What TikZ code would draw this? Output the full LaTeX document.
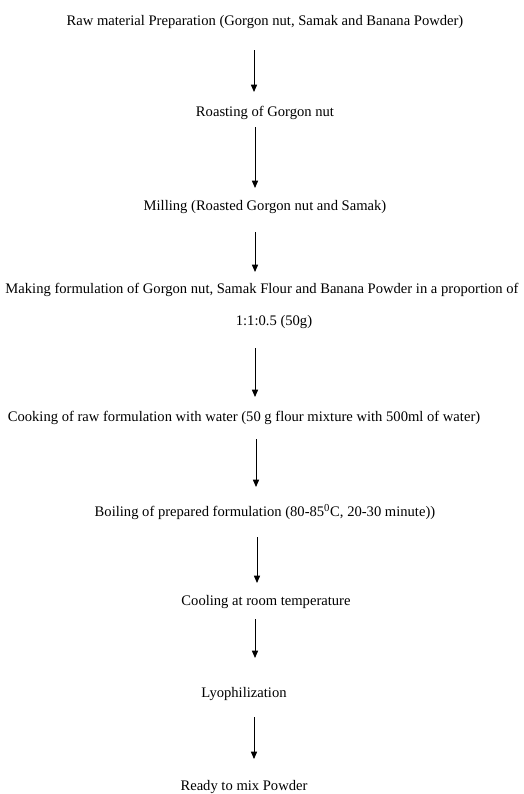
\documentclass[tikz,border=0pt]{standalone}
\usepackage{fontspec}
\setmainfont{Liberation Serif}
\usetikzlibrary{arrows.meta}
\begin{document}
\begin{tikzpicture}[x=0.75pt,y=-0.75pt,
  stepnode/.style={inner sep=0pt,font=\fontsize{10.95}{13}\selectfont,anchor=center},
  flowarrow/.style={line width=0.7pt,-{Triangle[length=5.5pt,width=4.6pt]}}]
\useasboundingbox (0,0) rectangle (524,794);
\node[stepnode] (raw) at (265,22) {Raw material Preparation (Gorgon nut, Samak and Banana Powder)};
\node[stepnode] (roast) at (265,113) {Roasting of Gorgon nut};
\node[stepnode] (mill) at (265,207) {Milling (Roasted Gorgon nut and Samak)};
\node[stepnode] (form) at (262,290) {Making formulation of Gorgon nut, Samak Flour and Banana Powder in a proportion of};
\node[stepnode] (prop) at (274,322) {1:1:0.5 (50g)};
\node[stepnode] (cook) at (244,418) {Cooking of raw formulation with water (50 g flour mixture with 500ml of water)};
\node[stepnode] (boil) at (265,512) {Boiling of prepared formulation (80-85\textsuperscript{0}C, 20-30 minute))};
\node[stepnode] (cool) at (266,602) {Cooling at room temperature};
\node[stepnode] (lyo) at (244,694) {Lyophilization};
\node[stepnode] (ready) at (244,787) {Ready to mix Powder};
\coordinate (a1s) at (254,50);  \coordinate (a1e) at (254,92);
\coordinate (a2s) at (255,127); \coordinate (a2e) at (255,188);
\coordinate (a3s) at (255,232); \coordinate (a3e) at (255,272);
\coordinate (a4s) at (255,348); \coordinate (a4e) at (255,397);
\coordinate (a5s) at (256,439); \coordinate (a5e) at (256,487);
\coordinate (a6s) at (257,537); \coordinate (a6e) at (257,583);
\coordinate (a7s) at (255,619); \coordinate (a7e) at (255,658);
\coordinate (a8s) at (254,717); \coordinate (a8e) at (254,759);
\draw[flowarrow] (a1s) -- (a1e);
\draw[flowarrow] (a2s) -- (a2e);
\draw[flowarrow] (a3s) -- (a3e);
\draw[flowarrow] (a4s) -- (a4e);
\draw[flowarrow] (a5s) -- (a5e);
\draw[flowarrow] (a6s) -- (a6e);
\draw[flowarrow] (a7s) -- (a7e);
\draw[flowarrow] (a8s) -- (a8e);
\end{tikzpicture}
\end{document}
